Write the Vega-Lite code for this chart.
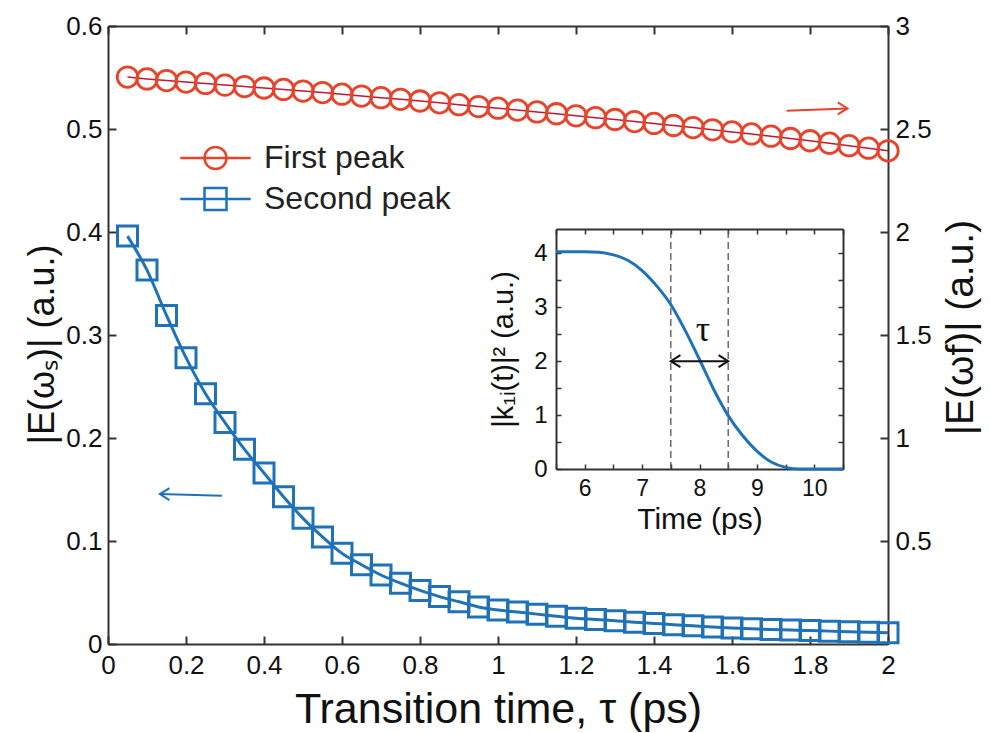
{
  "$schema": "https://vega.github.io/schema/vega-lite/v6.json",
  "width": 780,
  "height": 618,
  "autosize": {"type": "none"},
  "padding": {"left": 108, "top": 26, "right": 102, "bottom": 89},
  "background": "white",
  "config": {
    "view": {"stroke": null},
    "font": "Liberation Sans",
    "axis": {
      "grid": false,
      "domainColor": "#333333",
      "domainWidth": 2,
      "tickColor": "#333333",
      "tickWidth": 2,
      "labelColor": "#111111",
      "titleColor": "#111111",
      "labelFont": "Liberation Sans",
      "titleFont": "Liberation Sans",
      "titleFontWeight": "normal",
      "labelOverlap": false,
      "labelFlush": false
    }
  },
  "datasets": {
    "second": [
      {"t": 0.05, "v": 0.396}, {"t": 0.1, "v": 0.363}, {"t": 0.15, "v": 0.319}, {"t": 0.2, "v": 0.278},
      {"t": 0.25, "v": 0.243}, {"t": 0.3, "v": 0.215}, {"t": 0.35, "v": 0.189}, {"t": 0.4, "v": 0.166},
      {"t": 0.45, "v": 0.143}, {"t": 0.5, "v": 0.122}, {"t": 0.55, "v": 0.104}, {"t": 0.6, "v": 0.088},
      {"t": 0.65, "v": 0.077}, {"t": 0.7, "v": 0.067}, {"t": 0.75, "v": 0.059}, {"t": 0.8, "v": 0.052},
      {"t": 0.85, "v": 0.046}, {"t": 0.9, "v": 0.041}, {"t": 0.95, "v": 0.036}, {"t": 1.0, "v": 0.033},
      {"t": 1.05, "v": 0.031}, {"t": 1.1, "v": 0.029}, {"t": 1.15, "v": 0.027}, {"t": 1.2, "v": 0.025},
      {"t": 1.25, "v": 0.0238}, {"t": 1.3, "v": 0.0225}, {"t": 1.35, "v": 0.0212}, {"t": 1.4, "v": 0.02},
      {"t": 1.45, "v": 0.0188}, {"t": 1.5, "v": 0.0177}, {"t": 1.55, "v": 0.0166}, {"t": 1.6, "v": 0.0156},
      {"t": 1.65, "v": 0.0148}, {"t": 1.7, "v": 0.0141}, {"t": 1.75, "v": 0.0135}, {"t": 1.8, "v": 0.013},
      {"t": 1.85, "v": 0.0125}, {"t": 1.9, "v": 0.012}, {"t": 1.95, "v": 0.0115}, {"t": 2.0, "v": 0.011}
    ],
    "first": [
      {"t": 0.05, "v": 2.752}, {"t": 0.1, "v": 2.743}, {"t": 0.15, "v": 2.735}, {"t": 0.2, "v": 2.728},
      {"t": 0.25, "v": 2.721}, {"t": 0.3, "v": 2.713}, {"t": 0.35, "v": 2.706}, {"t": 0.4, "v": 2.699},
      {"t": 0.45, "v": 2.692}, {"t": 0.5, "v": 2.684}, {"t": 0.55, "v": 2.677}, {"t": 0.6, "v": 2.669},
      {"t": 0.65, "v": 2.66}, {"t": 0.7, "v": 2.652}, {"t": 0.75, "v": 2.644}, {"t": 0.8, "v": 2.636},
      {"t": 0.85, "v": 2.627}, {"t": 0.9, "v": 2.618}, {"t": 0.95, "v": 2.609}, {"t": 1.0, "v": 2.601},
      {"t": 1.05, "v": 2.592}, {"t": 1.1, "v": 2.583}, {"t": 1.15, "v": 2.574}, {"t": 1.2, "v": 2.564},
      {"t": 1.25, "v": 2.555}, {"t": 1.3, "v": 2.546}, {"t": 1.35, "v": 2.536}, {"t": 1.4, "v": 2.527},
      {"t": 1.45, "v": 2.517}, {"t": 1.5, "v": 2.507}, {"t": 1.55, "v": 2.496}, {"t": 1.6, "v": 2.486},
      {"t": 1.65, "v": 2.476}, {"t": 1.7, "v": 2.465}, {"t": 1.75, "v": 2.454}, {"t": 1.8, "v": 2.443},
      {"t": 1.85, "v": 2.431}, {"t": 1.9, "v": 2.419}, {"t": 1.95, "v": 2.407}, {"t": 2.0, "v": 2.394}
    ],
    "arrowS": [{"t": 0.133, "v": 0.1456, "t2": 0.292, "v2": 0.144}],
    "arrowFLine": [{"t": 1.74, "v": 2.589, "t2": 1.896, "v2": 2.6}],
    "arrowFHead": [{"t": 1.896, "v": 2.6}],
    "kcurve": [
      {"t": 5.5, "v": 4.03}, {"t": 6.0, "v": 4.03}, {"t": 6.25, "v": 4.02}, {"t": 6.5, "v": 3.97},
      {"t": 6.75, "v": 3.87}, {"t": 7.0, "v": 3.68}, {"t": 7.25, "v": 3.4}, {"t": 7.5, "v": 3.05},
      {"t": 7.75, "v": 2.57}, {"t": 8.0, "v": 2.03}, {"t": 8.25, "v": 1.47}, {"t": 8.5, "v": 0.99},
      {"t": 8.75, "v": 0.62}, {"t": 9.0, "v": 0.33}, {"t": 9.25, "v": 0.13}, {"t": 9.5, "v": 0.03},
      {"t": 9.75, "v": 0.0}, {"t": 10.0, "v": 0.0}, {"t": 10.5, "v": 0.0}
    ],
    "dash": [{"t": 7.5, "v": 0, "v2": 4.45}, {"t": 8.5, "v": 0, "v2": 4.45}],
    "tauArrow": [{"t": 7.5, "t2": 8.5, "v": 2.0}],
    "tauHeadL": [{"t": 7.5, "v": 2.0}],
    "tauHeadR": [{"t": 8.5, "v": 2.0}],
    "tauLabel": [{"t": 8.06, "v": 2.58, "label": "τ"}],
    "legend": [{"series": "First peak"}, {"series": "Second peak"}]
  },
  "layer": [
    {
      "data": {"name": "second"},
      "encoding": {
        "x": {
          "field": "t", "type": "quantitative",
          "scale": {"domain": [0, 2], "nice": false, "zero": false},
          "axis": {
            "orient": "bottom",
            "values": [0, 0.2, 0.4, 0.6, 0.8, 1, 1.2, 1.4, 1.6, 1.8, 2],
            "format": "~g",
            "tickSize": -8,
            "labelPadding": 16,
            "labelFontSize": 26,
            "title": "Transition time, τ (ps)",
            "titleFontSize": 43,
            "titleY": 78,
            "titleBaseline": "alphabetic"
          }
        },
        "y": {
          "field": "v", "type": "quantitative",
          "scale": {"domain": [0, 0.6], "nice": false},
          "axis": {
            "orient": "left",
            "values": [0, 0.1, 0.2, 0.3, 0.4, 0.5, 0.6],
            "format": "~g",
            "tickSize": -8,
            "labelPadding": 14,
            "labelFontSize": 26,
            "title": "|E(ωₛ)| (a.u.)",
            "titleFontSize": 36,
            "titleAngle": -90,
            "titleX": -66,
            "titleY": 318,
            "titleAlign": "center",
            "titleBaseline": "middle"
          }
        }
      },
      "layer": [
        {"mark": {"type": "line", "color": "#1f72b8", "strokeWidth": 3, "interpolate": "monotone"}},
        {"mark": {"type": "point", "shape": "square", "filled": false, "color": "#1f72b8", "size": 400, "strokeWidth": 3, "opacity": 1}},
        {"data": {"name": "arrowS"}, "mark": {"type": "rule", "color": "#1f72b8", "strokeWidth": 2}, "encoding": {"x2": {"field": "t2"}, "y2": {"field": "v2"}}},
        {"data": {"name": "arrowS"}, "mark": {"type": "point", "shape": "M1.6,-1L0,0L1.6,1", "filled": false, "color": "#1f72b8", "size": 144, "strokeWidth": 2, "opacity": 1}}
      ]
    },
    {
      "data": {"name": "first"},
      "encoding": {
        "x": {
          "field": "t", "type": "quantitative",
          "scale": {"domain": [0, 2], "nice": false, "zero": false},
          "axis": {
            "orient": "top",
            "values": [0, 0.2, 0.4, 0.6, 0.8, 1, 1.2, 1.4, 1.6, 1.8, 2],
            "labels": false,
            "tickSize": -8,
            "title": null
          }
        },
        "y": {
          "field": "v", "type": "quantitative",
          "scale": {"domain": [0, 3], "nice": false},
          "axis": {
            "orient": "right",
            "values": [0.5, 1, 1.5, 2, 2.5, 3],
            "format": "~g",
            "tickSize": -8,
            "labelPadding": 15,
            "labelFontSize": 26,
            "title": "|E(ωf)| (a.u.)",
            "titleFontSize": 39,
            "titleAngle": -90,
            "titleX": 72,
            "titleY": 301,
            "titleAlign": "center",
            "titleBaseline": "middle"
          }
        }
      },
      "layer": [
        {"mark": {"type": "line", "color": "#c8162a", "strokeWidth": 1.5}},
        {"mark": {"type": "point", "shape": "circle", "filled": false, "color": "#e8432b", "size": 420, "strokeWidth": 2.8, "opacity": 1}},
        {"data": {"name": "arrowFLine"}, "mark": {"type": "rule", "color": "#e8432b", "strokeWidth": 2}, "encoding": {"x2": {"field": "t2"}, "y2": {"field": "v2"}}},
        {"data": {"name": "arrowFHead"}, "mark": {"type": "point", "shape": "M-1.6,-1L0,0L-1.6,1", "filled": false, "color": "#e8432b", "size": 144, "strokeWidth": 2, "opacity": 1}}
      ]
    },
    {
      "encoding": {
        "x": {
          "field": "t", "type": "quantitative",
          "scale": {"domain": [5.5, 10.5], "range": [448, 735], "nice": false, "zero": false},
          "axis": {
            "orient": "bottom",
            "offset": -175,
            "values": [5.5, 6, 6.5, 7, 7.5, 8, 8.5, 9, 9.5, 10, 10.5],
            "format": "~g",
            "labelExpr": "datum.value % 1 === 0 ? datum.label : ''",
            "tickSize": -5,
            "tickWidth": 1.5,
            "labelPadding": 13,
            "labelFontSize": 23,
            "title": "Time (ps)",
            "titleFontSize": 30,
            "titleY": 59,
            "titleBaseline": "alphabetic"
          }
        },
        "y": {
          "field": "v", "type": "quantitative",
          "scale": {"domain": [0, 4.45], "range": [443, 203], "nice": false},
          "axis": {
            "orient": "left",
            "offset": -448,
            "values": [0, 0.5, 1, 1.5, 2, 2.5, 3, 3.5, 4],
            "format": "~g",
            "labelExpr": "datum.value % 1 === 0 ? datum.label : ''",
            "tickSize": -5,
            "tickWidth": 1.5,
            "labelPadding": 14,
            "labelFontSize": 24,
            "title": "|k₁ᵢ(t)|² (a.u.)",
            "titleFontSize": 29,
            "titleAngle": -90,
            "titleX": -53,
            "titleAlign": "center",
            "titleBaseline": "middle"
          }
        }
      },
      "layer": [
        {"data": {"name": "dash"}, "mark": {"type": "rule", "color": "#555555", "strokeWidth": 1.3, "strokeDash": [7, 4]}, "encoding": {"y2": {"field": "v2"}}},
        {"data": {"name": "kcurve"}, "mark": {"type": "line", "color": "#1f72b8", "strokeWidth": 3, "interpolate": "monotone"}},
        {"data": {"name": "tauArrow"}, "mark": {"type": "rule", "color": "#111111", "strokeWidth": 2}, "encoding": {"x2": {"field": "t2"}}},
        {"data": {"name": "tauHeadL"}, "mark": {"type": "point", "shape": "M1.6,-1L0,0L1.6,1", "filled": false, "color": "#111111", "size": 144, "strokeWidth": 2, "opacity": 1}},
        {"data": {"name": "tauHeadR"}, "mark": {"type": "point", "shape": "M-1.6,-1L0,0L-1.6,1", "filled": false, "color": "#111111", "size": 144, "strokeWidth": 2, "opacity": 1}},
        {"data": {"name": "tauLabel"}, "mark": {"type": "text", "font": "Liberation Serif", "fontSize": 36, "color": "#111111"}, "encoding": {"text": {"field": "label"}}}
      ]
    },
    {
      "data": {"name": "dash"},
      "mark": {"type": "rule", "opacity": 0},
      "encoding": {
        "x": {
          "field": "t", "type": "quantitative",
          "scale": {"domain": [5.5, 10.5], "range": [448, 735], "nice": false, "zero": false},
          "axis": {
            "orient": "top",
            "offset": -203,
            "values": [5.5, 6, 6.5, 7, 7.5, 8, 8.5, 9, 9.5, 10, 10.5],
            "labels": false,
            "tickSize": -5,
            "tickWidth": 1.5,
            "title": null
          }
        }
      }
    },
    {
      "data": {"name": "dash"},
      "mark": {"type": "rule", "opacity": 0},
      "encoding": {
        "y": {
          "field": "v", "type": "quantitative",
          "scale": {"domain": [0, 4.45], "range": [443, 203], "nice": false},
          "axis": {
            "orient": "right",
            "offset": -45,
            "values": [0, 0.5, 1, 1.5, 2, 2.5, 3, 3.5, 4],
            "labels": false,
            "tickSize": -5,
            "tickWidth": 1.5,
            "title": null
          }
        }
      }
    },
    {
      "data": {"name": "legend"},
      "mark": {"type": "point", "filled": false, "opacity": 0},
      "encoding": {
        "color": {
          "field": "series", "type": "nominal",
          "scale": {"domain": ["First peak", "Second peak"], "range": ["#e8432b", "#1f72b8"]},
          "legend": {
            "title": null, "orient": "none", "legendX": 91.5, "legendY": 116, "padding": 0,
            "labelFont": "Liberation Sans", "labelFontSize": 32, "labelColor": "#222222", "labelLimit": 400,
            "labelOffset": 32.5, "rowPadding": 9, "symbolOpacity": 1, "symbolStrokeWidth": 2.5, "symbolSize": 484
          }
        },
        "shape": {
          "field": "series", "type": "nominal",
          "scale": {
            "domain": ["First peak", "Second peak"],
            "range": [
              "M-3.2,0L3.2,0M-1,0A1,1,0,1,1,1,0A1,1,0,1,1,-1,0",
              "M-3.2,0L3.2,0M-1,-1L1,-1L1,1L-1,1Z"
            ]
          },
          "legend": {
            "title": null, "orient": "none", "legendX": 91.5, "legendY": 116, "padding": 0,
            "labelFont": "Liberation Sans", "labelFontSize": 32, "labelColor": "#222222", "labelLimit": 400,
            "labelOffset": 32.5, "rowPadding": 9, "symbolOpacity": 1, "symbolStrokeWidth": 2.5, "symbolSize": 484
          }
        }
      }
    }
  ],
  "resolve": {
    "scale": {"x": "independent", "y": "independent"},
    "axis": {"x": "independent", "y": "independent"}
  }
}
